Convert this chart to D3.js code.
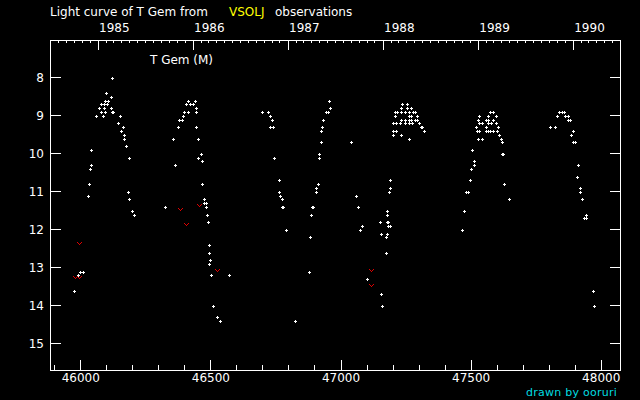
<!DOCTYPE html>
<html><head><meta charset="utf-8">
<script src="https://cdn.jsdelivr.net/npm/d3@7"></script>
<style>
html,body{margin:0;padding:0;background:#000;}
svg{display:block;}
text{font-family:"DejaVu Sans",sans-serif;}
</style></head>
<body>
<svg id="c" width="640" height="400"></svg>
<script>
// Visual observations (JD-2400000, visual magnitude)
const obsJD = [
45977,45992,46000,46012,46031,46035,46038,46042,46042,46062,46073,46081,46081,46088,46092,46092,46096,46096,46100,46104,46108,46119,46119,46123,46123,46127,46146,46154,46158,46165,46169,46169,46177,46185,46188,46188,46200,46208,
46327,46358,46365,46377,46381,46392,46396,46400,46408,46415,46415,46423,46434,46442,46446,46446,46446,46454,46454,46465,46469,46469,46477,46477,46484,46484,46488,46492,46496,46496,46496,46500,46504,46511,46527,46538,46573,
46700,46723,46730,46730,46738,46742,46746,46765,46765,46769,46777,46777,46780,46792,46827,46880,46884,46888,46892,46896,46907,46907,46915,46919,46919,46927,46927,46930,46934,46946,46954,46957,46961,47042,47061,47069,47076,47084,47103,
47153,47157,47157,47161,47176,47176,47180,47180,47180,47180,47184,47184,47188,47192,47192,47192,47203,47203,47203,47211,47211,47215,47215,47219,47230,47234,47234,47234,47234,47238,47249,47249,47249,47257,47257,47265,47265,47265,47265,47265,47273,47273,47273,47276,47280,47288,47288,47296,47296,47303,47311,47315,47322,
47468,47476,47484,47492,47499,47503,47507,47515,47515,47522,47526,47530,47530,47534,47534,47534,47545,47545,47561,47561,47561,47568,47568,47568,47568,47576,47576,47580,47588,47588,47588,47599,47599,47603,47607,47611,47618,47622,47622,47626,47630,47649,
47807,47826,47834,47842,47853,47861,47865,47876,47876,47884,47888,47895,47895,47903,47911,47915,47922,47922,47930,47938,47945,47945,47972,47976
];
const obsMag = [
13.6,13.2,13.1,13.1,11.1,10.8,10.4,10.3,9.9,9.0,8.8,8.7,8.9,9.0,8.7,8.8,8.6,8.9,8.4,8.7,8.6,8.5,8.8,8.0,8.9,8.9,9.2,9.0,9.4,9.3,9.5,9.6,9.8,11.0,10.1,11.2,11.5,11.6,
11.4,9.6,10.3,9.3,9.1,9.1,9.0,8.9,8.7,8.9,8.6,8.7,8.7,8.6,8.8,8.9,9.3,9.6,10.1,10.0,10.2,10.8,11.2,11.3,11.3,11.4,11.6,11.8,12.4,12.6,12.9,12.8,13.2,14.0,14.3,14.4,13.2,
8.9,8.9,9.0,9.3,9.1,9.3,10.1,10.7,11.0,11.1,11.2,11.4,11.4,12.0,14.4,13.1,12.2,11.6,11.4,11.4,11.0,10.9,10.8,10.1,10.0,9.7,9.4,9.3,9.1,8.9,8.9,8.6,8.8,9.7,11.1,11.4,12.0,11.9,13.3,
11.8,12.1,13.7,14.0,12.2,12.6,11.5,11.6,11.8,12.1,11.8,11.9,11.0,10.7,10.9,11.9,9.2,9.4,9.5,8.9,9.0,9.2,9.4,8.9,9.2,8.8,8.9,9.1,9.5,8.7,8.9,9.1,9.2,8.7,8.8,8.9,9.0,9.1,9.2,9.6,8.8,9.0,9.1,9.2,8.9,8.9,9.1,9.0,9.1,9.2,9.3,9.3,9.4,
12.0,11.5,11.0,11.0,10.7,10.4,9.9,10.2,10.3,9.3,9.4,9.1,9.6,9.0,9.2,9.4,9.2,9.6,9.1,9.3,9.4,9.0,9.1,9.2,9.4,8.9,9.4,9.2,8.9,9.1,9.4,9.0,9.2,9.4,9.3,9.5,9.6,9.7,10.0,10.0,10.8,11.2,
9.3,9.3,9.0,8.9,8.9,8.9,9.0,9.0,9.1,9.1,9.5,9.4,9.7,9.7,10.6,10.3,10.9,11.0,11.2,11.7,11.6,11.7,13.6,14.0
];
// "Fainter than" observations
const faintJD  = [45981,45996,45996,46384,46408,46458,46527,47119,47119];
const faintMag = [13.25,13.25,12.35,11.45,11.85,11.35,13.05,13.05,13.45];

const yTicks = [8,9,10,11,12,13,14,15];
const xMajorTicks = [46000,46500,47000,47500,48000];
const xMinorTicks = [45900,46100,46200,46300,46400,46600,46700,46800,46900,47100,47200,47300,47400,47600,47700,47800,47900];
const yearLabels = [1985,1986,1987,1988,1989,1990];
const titleParts = ["Light curve of T Gem from","VSOLJ","observations"];
const starLabel = "T Gem (M)";
const credit = "drawn by ooruri";

const svg = d3.select("#c");
svg.append("rect").attr("width",640).attr("height",400).attr("fill","#000");

const L=50, R=620, T=40, B=370;
const x = d3.scaleLinear().domain([46000,48000]).range([80.3,600.7]);
const y = d3.scaleLinear().domain([8,15]).range([77.3,343.3]);

// JD-2400000 of a calendar date
const jdOf = (yr,mo)=> Date.UTC(yr,mo,1)/86400000 + 40587 + 0.5;
const [d0,d1] = [x.invert(L), x.invert(R)];
const months = [];
for (let yr=1984; yr<=1990; yr++) for (let m=0;m<12;m++){
  const j = jdOf(yr,m);
  if (j>d0+2 && j<d1-1 && m!==0) months.push(j);
}
const years = yearLabels.map(yr=>jdOf(yr,0));

const g = svg.append("g").attr("shape-rendering","crispEdges");
const styleAxis = sel => {
  sel.select(".domain").remove();
  sel.selectAll("line").attr("stroke","#fff");
  sel.selectAll("text").attr("fill","#fff").attr("font-size",12).attr("font-family","DejaVu Sans");
};

// left axis
g.append("g").attr("transform",`translate(${L},0)`)
  .call(d3.axisLeft(y).tickValues(yTicks).tickSize(-11).tickPadding(6).tickFormat(d3.format("d")))
  .call(styleAxis);
// right axis
g.append("g").attr("transform",`translate(${R},0)`)
  .call(d3.axisRight(y).tickValues(yTicks).tickSize(-10).tickFormat(""))
  .call(styleAxis);
// bottom axis
g.append("g").attr("transform",`translate(0,${B})`)
  .call(d3.axisBottom(x).tickValues(xMajorTicks).tickSize(-10).tickPadding(3).tickFormat(d3.format("d")))
  .call(styleAxis);
g.append("g").attr("transform",`translate(0,${B})`)
  .call(d3.axisBottom(x).tickValues(xMinorTicks).tickSize(-5).tickFormat(""))
  .call(styleAxis);
// top axis: years and months
g.append("g").attr("transform",`translate(0,${T})`)
  .call(d3.axisTop(x).tickValues(years).tickSize(-10).tickPadding(8).tickFormat((d,i)=>yearLabels[i]))
  .call(styleAxis)
  .call(s=>s.selectAll("text").attr("text-anchor","start").attr("x",1));
g.append("g").attr("transform",`translate(0,${T})`)
  .call(d3.axisTop(x).tickValues(months).tickSize(-3).tickFormat(""))
  .call(styleAxis);

// frame
g.append("rect").attr("x",L+0.5).attr("y",T+0.5).attr("width",R-L).attr("height",B-T)
  .attr("fill","none").attr("stroke","#fff");

// observations: small plus marks
const pts = obsJD.map((j,i)=>({cx:Math.floor(x(j)), cy:Math.floor(y(obsMag[i]))+1}));
const pg = g.append("g").attr("fill","#fff");
pts.forEach(p=>{
  pg.append("rect").attr("x",p.cx-1).attr("y",p.cy).attr("width",3).attr("height",1);
  pg.append("rect").attr("x",p.cx).attr("y",p.cy-1).attr("width",1).attr("height",3);
});
// fainter-than: small red v
const fg = g.append("g").attr("fill","#e00000");
faintJD.forEach((j,i)=>{
  const cx=Math.floor(x(j)), cy=Math.floor(y(faintMag[i]))+1;
  [[-2,-1],[2,-1],[-1,0],[1,0],[0,1]].forEach(([dx,dy])=>{
    fg.append("rect").attr("x",cx+dx).attr("y",cy+dy).attr("width",1).attr("height",1);
  });
});

// texts
const t = svg.append("g").attr("font-size",12);
t.append("text").attr("x",50).attr("y",16.3).attr("fill","#fff").text(titleParts[0]);
t.append("text").attr("x",229).attr("y",16.3).attr("fill","#ffff00").text(titleParts[1]);
t.append("text").attr("x",275).attr("y",16.3).attr("fill","#fff").text(titleParts[2]);
t.append("text").attr("x",150).attr("y",64).attr("fill","#fff").text(starLabel);
t.append("text").attr("x",617).attr("y",395.5).attr("text-anchor","end").attr("fill","#00dde0")
  .attr("font-size",11).attr("letter-spacing",0.25).text(credit);
</script>
</body></html>
